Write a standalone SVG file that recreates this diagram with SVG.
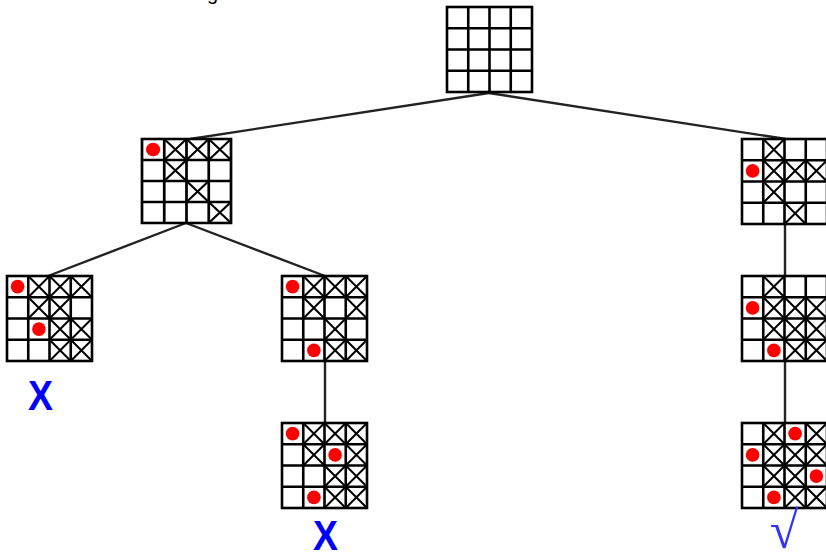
<svg xmlns="http://www.w3.org/2000/svg" xmlns:xlink="http://www.w3.org/1999/xlink" width="826" height="556" viewBox="0 0 826 556">
<style>
.grid{fill:#fff;stroke:#000;stroke-width:2.6}
.gl{stroke:#000;stroke-width:2.6}
.xc{stroke:#000;stroke-width:2}
.q{fill:#ff0000}
.con{stroke:#222;stroke-width:2.4;fill:none}
.lbl{font-family:"Liberation Sans",Arial,sans-serif;font-weight:bold;font-size:42px;fill:#0000ff;text-anchor:middle}
.ok{font-family:"Liberation Serif","DejaVu Serif",serif;font-size:52px;fill:#3333ff;text-anchor:middle}
</style>
<defs>
<g id="grid">
<rect class="grid" x="0" y="0" width="85" height="85"/>
<path class="gl" d="M21.25 0V85M42.5 0V85M63.75 0V85M0 21.25H85M0 42.5H85M0 63.75H85"/>
</g>
<path id="x" class="xc" d="M0 0L21.25 21.25M21.25 0L0 21.25"/>
<circle id="q" class="q" r="6.8"/>
</defs>
<text x="207" y="0" style="font-family:'Liberation Sans',Arial,sans-serif;font-size:20px;fill:#000">g</text>
<g id="connectors">
<line class="con" x1="489" y1="93" x2="190" y2="139"/>
<line class="con" x1="489" y1="93" x2="786" y2="139"/>
<line class="con" x1="186" y1="223" x2="48" y2="276"/>
<line class="con" x1="186" y1="223" x2="325" y2="276"/>
<line class="con" x1="325" y1="361" x2="325" y2="423"/>
<line class="con" x1="785" y1="223" x2="785" y2="276"/>
<line class="con" x1="785" y1="361" x2="785" y2="423"/>
</g>
<g id="root" transform="translate(447,7)">
<use xlink:href="#grid"/>
</g>
<g id="b1" transform="translate(142,139) scale(1.047,0.988)">
<use xlink:href="#grid"/>
<use xlink:href="#x" x="21.25" y="0"/><use xlink:href="#x" x="42.5" y="0"/><use xlink:href="#x" x="63.75" y="0"/>
<use xlink:href="#x" x="21.25" y="21.25"/><use xlink:href="#x" x="42.5" y="42.5"/><use xlink:href="#x" x="63.75" y="63.75"/>
<use xlink:href="#q" x="10.6" y="10.6"/>
</g>
<g id="bl" transform="translate(7,276)">
<use xlink:href="#grid"/>
<use xlink:href="#x" x="21.25" y="0"/><use xlink:href="#x" x="42.5" y="0"/><use xlink:href="#x" x="63.75" y="0"/>
<use xlink:href="#x" x="21.25" y="21.25"/><use xlink:href="#x" x="42.5" y="21.25"/>
<use xlink:href="#x" x="42.5" y="42.5"/><use xlink:href="#x" x="63.75" y="42.5"/>
<use xlink:href="#x" x="42.5" y="63.75"/><use xlink:href="#x" x="63.75" y="63.75"/>
<use xlink:href="#q" x="10.6" y="10.6"/><use xlink:href="#q" x="31.9" y="53.1"/>
</g>
<g id="bm1" transform="translate(282,276)">
<use xlink:href="#grid"/>
<use xlink:href="#x" x="21.25" y="0"/><use xlink:href="#x" x="42.5" y="0"/><use xlink:href="#x" x="63.75" y="0"/>
<use xlink:href="#x" x="21.25" y="21.25"/><use xlink:href="#x" x="63.75" y="21.25"/>
<use xlink:href="#x" x="42.5" y="42.5"/>
<use xlink:href="#x" x="42.5" y="63.75"/><use xlink:href="#x" x="63.75" y="63.75"/>
<use xlink:href="#q" x="10.6" y="10.6"/><use xlink:href="#q" x="31.9" y="74.4"/>
</g>
<g id="bm2" transform="translate(282,423)">
<use xlink:href="#grid"/>
<use xlink:href="#x" x="21.25" y="0"/><use xlink:href="#x" x="42.5" y="0"/><use xlink:href="#x" x="63.75" y="0"/>
<use xlink:href="#x" x="21.25" y="21.25"/><use xlink:href="#x" x="63.75" y="21.25"/>
<use xlink:href="#x" x="42.5" y="42.5"/><use xlink:href="#x" x="63.75" y="42.5"/>
<use xlink:href="#x" x="42.5" y="63.75"/><use xlink:href="#x" x="63.75" y="63.75"/>
<use xlink:href="#q" x="10.6" y="10.6"/><use xlink:href="#q" x="53.1" y="31.9"/><use xlink:href="#q" x="31.9" y="74.4"/>
</g>
<g id="r1" transform="translate(742,139)">
<use xlink:href="#grid"/>
<use xlink:href="#x" x="21.25" y="0"/>
<use xlink:href="#x" x="21.25" y="21.25"/><use xlink:href="#x" x="42.5" y="21.25"/><use xlink:href="#x" x="63.75" y="21.25"/>
<use xlink:href="#x" x="21.25" y="42.5"/>
<use xlink:href="#x" x="42.5" y="63.75"/>
<use xlink:href="#q" x="10.6" y="31.9"/>
</g>
<g id="r2" transform="translate(742,276)">
<use xlink:href="#grid"/>
<use xlink:href="#x" x="21.25" y="0"/>
<use xlink:href="#x" x="21.25" y="21.25"/><use xlink:href="#x" x="42.5" y="21.25"/><use xlink:href="#x" x="63.75" y="21.25"/>
<use xlink:href="#x" x="21.25" y="42.5"/><use xlink:href="#x" x="42.5" y="42.5"/><use xlink:href="#x" x="63.75" y="42.5"/>
<use xlink:href="#x" x="42.5" y="63.75"/><use xlink:href="#x" x="63.75" y="63.75"/>
<use xlink:href="#q" x="10.6" y="31.9"/><use xlink:href="#q" x="31.9" y="74.4"/>
</g>
<g id="r3" transform="translate(742,423)">
<use xlink:href="#grid"/>
<use xlink:href="#x" x="21.25" y="0"/><use xlink:href="#x" x="63.75" y="0"/>
<use xlink:href="#x" x="21.25" y="21.25"/><use xlink:href="#x" x="42.5" y="21.25"/><use xlink:href="#x" x="63.75" y="21.25"/>
<use xlink:href="#x" x="21.25" y="42.5"/><use xlink:href="#x" x="42.5" y="42.5"/>
<use xlink:href="#x" x="42.5" y="63.75"/><use xlink:href="#x" x="63.75" y="63.75"/>
<use xlink:href="#q" x="10.6" y="31.9"/><use xlink:href="#q" x="31.9" y="74.4"/><use xlink:href="#q" x="53.1" y="10.6"/><use xlink:href="#q" x="74.4" y="53.1"/>
</g>
<g id="labels">
<text class="lbl" x="40.5" y="410" textLength="25" lengthAdjust="spacingAndGlyphs">X</text>
<text class="lbl" x="325.5" y="550" textLength="25" lengthAdjust="spacingAndGlyphs">X</text>
<text class="ok" x="784" y="548">√</text>
</g>
</svg>
